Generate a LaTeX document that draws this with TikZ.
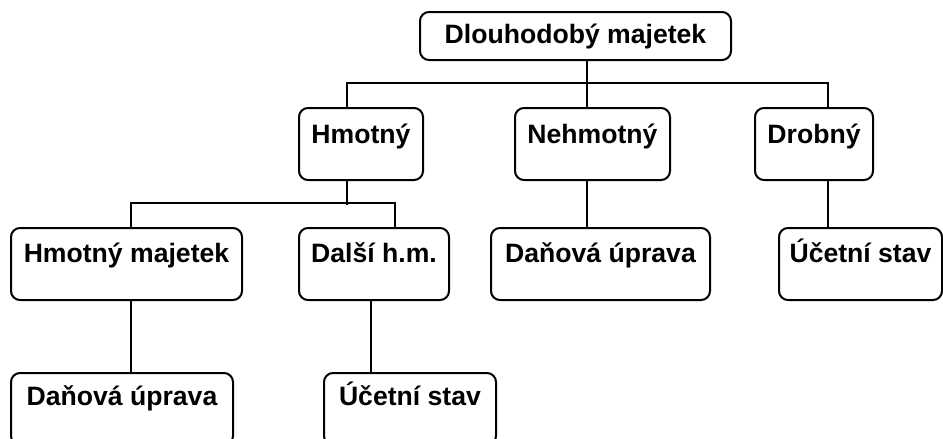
\documentclass[tikz,border=0pt]{standalone}
\usepackage{fontspec}
\setmainfont{Liberation Sans}
\usepackage{tikz}
\usetikzlibrary{positioning,calc}

\begin{document}
\begin{tikzpicture}[
  x=0.5pt, y=-0.5pt,
  box/.style={rectangle, draw, rounded corners=4.5pt, line width=1pt, inner xsep=0pt, inner ysep=0pt, align=center, font=\fontsize{13.3}{16}\selectfont\bfseries},
  boxRoot/.style={box, text height=15.5pt, text depth=8.5pt},
  boxOne/.style={box, text height=17.5pt, text depth=18.5pt},
  boxTwo/.style={box, text height=17pt, text depth=19pt},
  boxThree/.style={box, text height=16pt, text depth=20pt},
  link/.style={draw, line width=1pt}
]
\useasboundingbox (0,0) rectangle (943,439);
\clip (0,0) rectangle (943,439);

\node[boxRoot, minimum width=155.5pt] (root)  at (575.5,36) {Dlouhodobý majetek};

\node[boxOne, minimum width=62pt]     (hmot)  at (361,144)   {Hmotný};
\node[boxOne, minimum width=77.5pt]   (nehm)  at (592.5,144) {Nehmotný};
\node[boxOne, minimum width=59pt]     (drob)  at (814,144)   {Drobný};

\node[boxTwo, minimum width=115.5pt]  (hmaj)  at (126.5,264) {Hmotný majetek};
\node[boxTwo, minimum width=75pt]     (dalsi) at (374,264)   {Další h.m.};
\node[boxTwo, minimum width=109.5pt]  (danA)  at (600.5,264) {Daňová úprava};
\node[boxTwo, minimum width=81.5pt]   (ucetA) at (860.5,264) {Účetní stav};

\node[boxThree, minimum width=111pt]  (danB)  at (122,409)   {Daňová úprava};
\node[boxThree, minimum width=86pt]   (ucetB) at (410,409)   {Účetní stav};

% first level
\draw[link] ([xshift=5.75pt]root.south) -- ([xshift=-2.75pt]nehm.north);
\draw[link] ([xshift=-7pt]hmot.north) -- ++(0,12pt) -| ([xshift=7pt]drob.north);

% under Hmotny
\draw[link] ([xshift=-7pt]hmot.south) -- ++(0,-12pt);
\draw[link] ([xshift=2.25pt]hmaj.north) -- ++(0,12pt) -| ([xshift=10.5pt]dalsi.north);

% leaves
\draw[link] ([xshift=-2.75pt]nehm.south) -- ([xshift=-6.75pt]danA.north);
\draw[link] ([xshift=7pt]drob.south) -- ([xshift=-16.25pt]ucetA.north);
\draw[link] ([xshift=2.25pt]hmaj.south) -- ([xshift=4.5pt]danB.north);
\draw[link] ([xshift=-1.5pt]dalsi.south) -- ([xshift=-19.5pt]ucetB.north);
\end{tikzpicture}
\end{document}
